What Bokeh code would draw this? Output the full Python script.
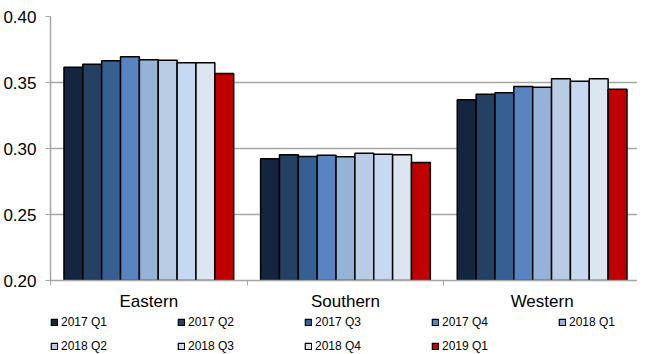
import numpy as np
from bokeh.plotting import figure
from bokeh.layouts import column
from bokeh.models import Range1d, FixedTicker, PrintfTickFormatter, Legend
from bokeh.embed import file_html
from bokeh.resources import INLINE

regions = ["Eastern", "Southern", "Western"]
quarters = ["2017 Q1", "2017 Q2", "2017 Q3", "2017 Q4", "2018 Q1",
            "2018 Q2", "2018 Q3", "2018 Q4", "2019 Q1"]

q2017_1 = [0.3616, 0.2922, 0.3369]
q2017_2 = [0.3639, 0.2952, 0.3411]
q2017_3 = [0.3664, 0.2939, 0.3422]
q2017_4 = [0.3695, 0.2949, 0.3470]
q2018_1 = [0.3672, 0.2937, 0.3464]
q2018_2 = [0.3669, 0.2964, 0.3528]
q2018_3 = [0.3649, 0.2957, 0.3510]
q2018_4 = [0.3649, 0.2952, 0.3528]
q2019_1 = [0.3568, 0.2894, 0.3449]
series = [q2017_1, q2017_2, q2017_3, q2017_4, q2018_1,
          q2018_2, q2018_3, q2018_4, q2019_1]

colors = ["#13253F", "#244062", "#366092", "#5885C0", "#95B3D7",
          "#B8CCE4", "#C6D9F0", "#DCE6F1", "#C00000"]

y_ticks = [0.20, 0.25, 0.30, 0.35, 0.40]
y_min, y_max = 0.20, 0.40

FONT = "Liberation Sans"
GRAY = "#A6A6A6"

p = figure(width=637, height=313, output_backend="svg", toolbar_location=None,
           x_range=Range1d(0, 2.985), y_range=Range1d(y_min, y_max),
           min_border_left=49, min_border_right=0, min_border_top=16,
           min_border_bottom=30)
p.outline_line_color = None
p.background_fill_color = "white"
p.border_fill_color = "white"

# legend strip (second panel under the chart)
p2 = figure(width=637, height=41, output_backend="svg", toolbar_location=None,
            x_range=p.x_range, y_range=Range1d(10, 11),
            min_border=0, x_axis_location=None, y_axis_location=None)
p2.outline_line_color = None
p2.grid.visible = False

bar_w = 0.0959
base = np.arange(len(regions))
n = len(series)
items = []
for j, (vals, col, lab) in enumerate(zip(series, colors, quarters)):
    xs = base + 0.5 + (j - (n - 1) / 2) * bar_w
    p.vbar(x=xs, top=vals, bottom=y_min, width=bar_w, fill_color=col,
           line_color="black", line_width=1.5)
    # same series in the legend strip (out of its visible y range) for legend swatches
    r = p2.vbar(x=xs, top=vals, bottom=y_min, width=bar_w, fill_color=col,
                line_color="black", line_width=1.2)
    items.append((lab, [r]))

# x axis
p.xaxis.ticker = FixedTicker(ticks=[i + 0.5 for i in range(len(regions))],
                             minor_ticks=list(range(len(regions) + 1)))
p.xaxis.major_label_overrides = {i + 0.5: r for i, r in enumerate(regions)}
p.xaxis.major_tick_line_color = None
p.xaxis.major_tick_out = 0
p.xaxis.major_tick_in = 0
p.xaxis.minor_tick_out = 5
p.xaxis.minor_tick_in = 0
p.xaxis.minor_tick_line_color = GRAY
p.xaxis.axis_line_color = GRAY
p.xaxis.axis_line_width = 1.5
p.xaxis.major_label_standoff = 6
p.xaxis.major_label_text_font = FONT
p.xaxis.major_label_text_font_size = "17px"
p.xaxis.major_label_text_color = "black"

# y axis
p.yaxis.ticker = FixedTicker(ticks=y_ticks, minor_ticks=[])
p.yaxis.formatter = PrintfTickFormatter(format="%.2f")
p.yaxis.major_tick_out = 5
p.yaxis.major_tick_in = 0
p.yaxis.major_tick_line_color = GRAY
p.yaxis.axis_line_color = GRAY
p.yaxis.axis_line_width = 1.5
p.yaxis.major_label_standoff = 9
p.yaxis.major_label_text_font = FONT
p.yaxis.major_label_text_font_size = "17px"
p.yaxis.major_label_text_color = "black"

p.xgrid.visible = False
p.ygrid.grid_line_color = GRAY
p.ygrid.grid_line_width = 1.5

lg = Legend(items=items, location=(0, 1), orientation="horizontal", ncols=5)
lg.label_text_font = FONT
lg.label_text_font_size = "12px"
lg.label_text_color = "black"
lg.glyph_width = 8
lg.glyph_height = 8
lg.label_standoff = 3
lg.label_width = 106
lg.label_height = 14
lg.spacing = 10
lg.padding = 0
lg.margin = 0
lg.border_line_color = None
lg.background_fill_alpha = 0
p2.add_layout(lg)

open("out.html", "w").write(file_html(column(p, p2, spacing=0), INLINE))
